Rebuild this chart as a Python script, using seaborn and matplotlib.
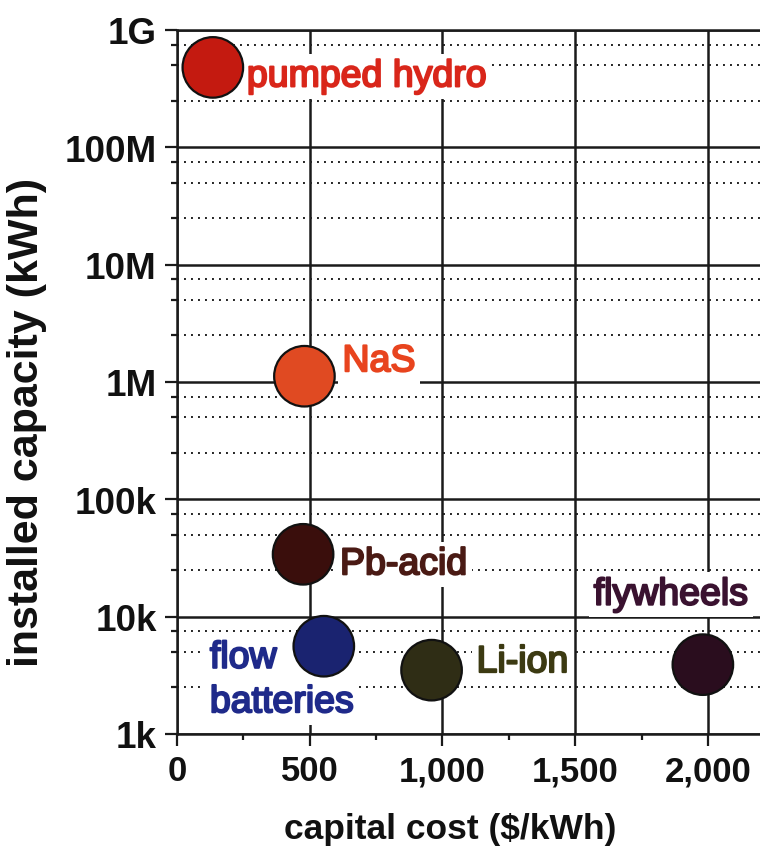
import matplotlib
matplotlib.use("Agg")
import matplotlib.pyplot as plt
import matplotlib.patheffects as pe
from matplotlib.ticker import FixedLocator, FixedFormatter
import seaborn as sns
import pandas as pd

# ---- data ----
technologies = ["pumped hydro", "NaS", "Pb-acid", "flow batteries", "Li-ion", "flywheels"]
capital_cost = [135, 480, 475, 553, 959, 1981]            # $/kWh
installed_capacity = [4.8e8, 1.12e6, 3.4e4, 5.6e3, 3.5e3, 3.9e3]  # kWh
label_text = ["pumped hydro", "NaS", "Pb-acid", "flow\nbatteries", "Li-ion", "flywheels"]

y_tick_values = [1e3, 1e4, 1e5, 1e6, 1e7, 1e8, 1e9]
y_tick_labels = ["1k", "10k", "100k", "1M", "10M", "100M", "1G"]
x_tick_values = [0, 500, 1000, 1500, 2000]
x_tick_labels = ["0", "500", "1,000", "1,500", "2,000"]

# ---- styles ----
marker_colors = {"pumped hydro": "#C41A10", "NaS": "#E04A22", "Pb-acid": "#3A0E0C",
                 "flow batteries": "#1A2370", "Li-ion": "#2F2D15", "flywheels": "#2A0D1E"}
text_colors = {"pumped hydro": "#D9261A", "NaS": "#E8441E", "Pb-acid": "#4A1A14",
               "flow batteries": "#1F2A8A", "Li-ion": "#3C3A12", "flywheels": "#3A1230"}
# label offsets in points from marker centre, and horizontal alignment
label_offsets = {"pumped hydro": (24.5, -13.7, "left"), "NaS": (27.4, 3.6, "left"),
                 "Pb-acid": (26.6, -14.4, "left"), "flow batteries": (-82, -47.5, "left"),
                 "Li-ion": (32.4, -1.4, "left"), "flywheels": (-23, 43.2, "center")}

sns.set_theme(style="white")
plt.rcParams["font.family"] = ["Liberation Sans", "DejaVu Sans"]

df = pd.DataFrame({"tech": technologies, "cost": capital_cost, "capacity": installed_capacity})

fig = plt.figure(figsize=(7.6, 8.54), dpi=100)
ax = fig.add_axes([177 / 760, 119 / 854, 584 / 760, 704 / 854])

sns.scatterplot(data=df, x="cost", y="capacity", hue="tech", palette=marker_colors,
                s=1900, edgecolor="#111111", linewidth=1.6, legend=False, ax=ax, zorder=6)

ax.set_yscale("log")
ax.set_ylim(1e3, 1e9)
ax.set_xlim(0, 2200)

ax.yaxis.set_major_locator(FixedLocator(y_tick_values))
ax.yaxis.set_major_formatter(FixedFormatter(y_tick_labels))
minor_y = [m * v for v in y_tick_values[:-1] for m in (2.5, 5, 7.5)]
ax.yaxis.set_minor_locator(FixedLocator(minor_y))
ax.yaxis.set_minor_formatter(FixedFormatter([""] * len(minor_y)))
ax.xaxis.set_major_locator(FixedLocator(x_tick_values))
ax.xaxis.set_major_formatter(FixedFormatter(x_tick_labels))
ax.xaxis.set_minor_locator(FixedLocator([250, 750, 1250, 1750, 2250]))

ax.set_axisbelow(True)
ax.grid(which="major", axis="both", color="#1a1a1a", linewidth=1.8, linestyle="-")
ax.grid(which="minor", axis="y", color="#222222", linewidth=1.4, linestyle=(0, (1, 2.6)))

for side in ["left", "bottom", "top"]:
    ax.spines[side].set_visible(True)
    ax.spines[side].set_color("#1a1a1a")
    ax.spines[side].set_linewidth(1.8)
ax.spines["right"].set_visible(False)

ax.tick_params(axis="both", which="major", direction="out", length=8.5, width=1.6,
               color="#1a1a1a", labelcolor="#111111", pad=6, left=True, bottom=True)
ax.tick_params(axis="y", which="major", labelsize=26.5)
ax.tick_params(axis="x", which="major", labelsize=25)
ax.tick_params(axis="both", which="minor", direction="out", length=4.5, width=1.6,
               color="#1a1a1a", left=True, bottom=True)

for t in ax.get_xticklabels() + ax.get_yticklabels():
    t.set_fontweight("bold")

ax.set_xlabel("capital cost ($/kWh)", fontsize=25.5, fontweight="bold", color="#111111")
ax.set_ylabel("installed capacity (kWh)", fontsize=31, fontweight="bold", color="#111111")
ax.xaxis.set_label_coords((450 - 177) / 584, -(813 - 735) / 704)
ax.yaxis.set_label_coords(-(177 - 47) / 584, (735 - 422) / 704)

for tech, cost, cap, lab in zip(technologies, capital_cost, installed_capacity, label_text):
    dx, dy, ha = label_offsets[tech]
    col = text_colors[tech]
    ax.annotate(lab, xy=(cost, cap), xytext=(dx, dy), textcoords="offset points",
                ha=ha, va="baseline", fontsize=27, color=col, linespacing=1.3,
                zorder=5,
                bbox=dict(boxstyle="square,pad=0.12", facecolor="white", edgecolor="none"),
                path_effects=[pe.withStroke(linewidth=1.5, foreground=col)])

fig.savefig("out.png", dpi=100)
